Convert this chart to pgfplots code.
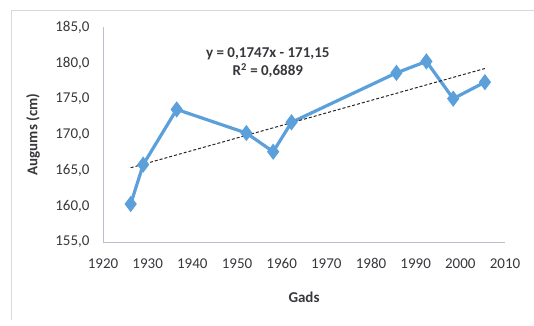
\documentclass[border=0pt]{standalone}
\usepackage{pgfplots}
\pgfplotsset{compat=1.18}
\usepackage{fontspec}
\setmainfont{Carlito}
\definecolor{serblue}{RGB}{91,160,218}
\definecolor{txt}{RGB}{55,55,60}
\definecolor{axgray}{RGB}{190,190,205}
\begin{document}
\begin{tikzpicture}[x=1pt,y=1pt]
\useasboundingbox (0,0) rectangle (534,325);
\draw[gray!30, line width=0.8pt] (11,5) -- (11,315) -- (534,315);
\begin{axis}[
  at={(103pt,83pt)}, anchor=south west,
  scale only axis, width=402pt, height=215pt,
  xmin=1920, xmax=2010, ymin=155, ymax=185,
  xtick={1920,1930,...,2010},
  ytick={155,160,...,185},
  axis x line*=bottom, axis y line*=left,
  axis line style={axgray, line width=0.8pt, -},
  major tick length=0pt,
  font=\fontsize{15}{18}\selectfont,
  tick label style={txt, font=\fontsize{15}{18}\selectfont},
  /pgf/number format/assume math mode=true,
  xticklabel style={/pgf/number format/1000 sep={}, yshift=-13pt},
  yticklabel style={/pgf/number format/.cd, fixed, fixed zerofill, precision=1, use comma, 1000 sep={}, /tikz/.cd, xshift=-10pt},
  xlabel={\textbf{Gads}},
  ylabel={\textbf{Augums (cm)}},
  xlabel style={at={(axis description cs:0.5,0)}, anchor=center, yshift=-55pt, txt},
  ylabel style={at={(axis description cs:0,0.5)}, anchor=center, yshift=70pt, txt},
  clip=false,
]
\addplot[serblue, line width=3.2pt, mark=diamond*, mark size=5.5pt, mark options={solid, fill=serblue}]
  coordinates {
  (1926.2,160.3) (1929.0,165.8) (1936.5,173.5) (1952.1,170.2) (1958.1,167.6)
  (1962.2,171.7) (1985.7,178.6) (1992.4,180.2) (1998.4,175.0) (2005.5,177.3)
  };
\addplot[black!85, line width=1pt, densely dashed] coordinates {(1926.2,165.36) (2005.5,179.21)};
\node[txt, font=\fontsize{15}{18}\selectfont\bfseries, align=center] at (axis cs:1956.9,180.05)
  {y = 0,1747x - 171,15\\R\textsuperscript{2} = 0,6889};
\end{axis}
\end{tikzpicture}
\end{document}
